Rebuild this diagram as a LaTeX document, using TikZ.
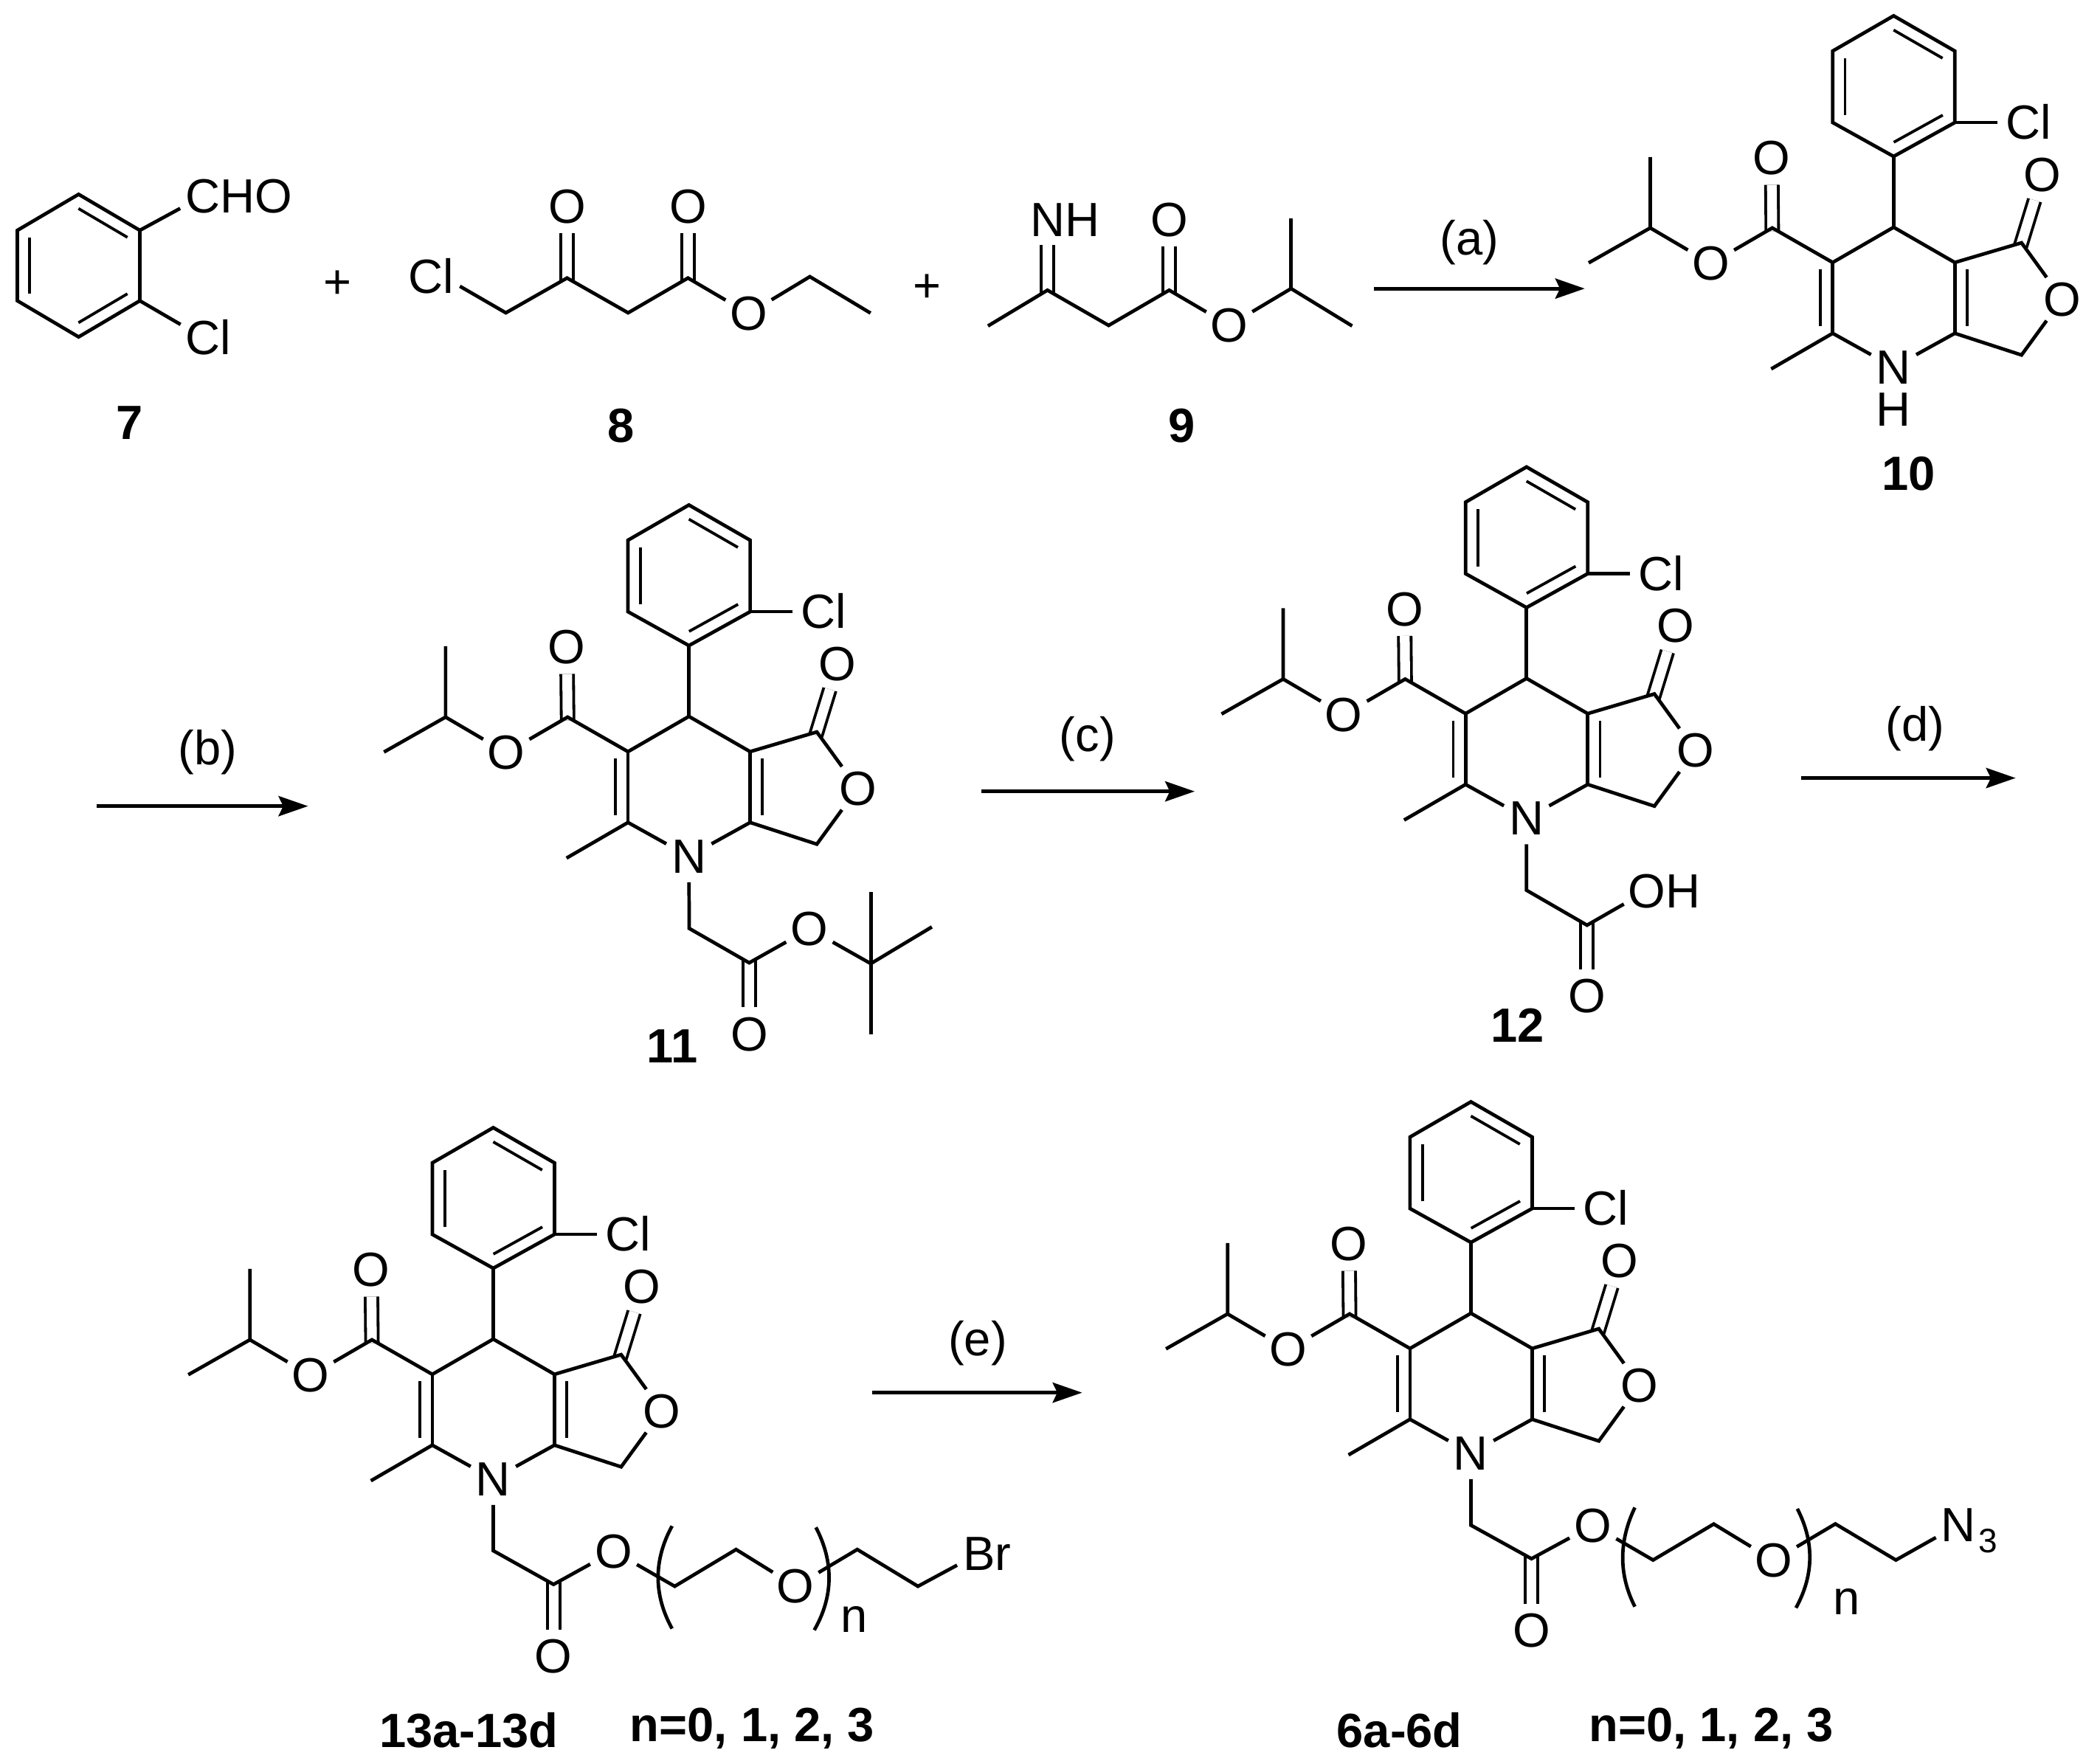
\documentclass[tikz,border=0pt]{standalone}
\usepackage{fontspec}
\setmainfont{Liberation Sans}
\usetikzlibrary{arrows.meta,calc}

\tikzset{
  atom/.style={circle,inner sep=0pt,text height=0.25cm,text depth=0pt},
  thinatom/.style={atom,text width=0pt,minimum size=0.26cm,align=center},
  cmpd/.style={inner sep=0pt,font=\fontsize{10.2pt}{12pt}\selectfont\bfseries},
  plain/.style={inner sep=0pt},
  dbl/.style={line width=0.021cm,double,double distance=0.073cm,shorten <=-0.025cm},
  inline/.style={line width=0.021cm},
  rxn/.style={-{Stealth[length=0.22cm,width=0.15cm,inset=0.035cm]}}
}
% inner line of a ring double bond, on the right of the way from #1 to #2
\newcommand{\inbond}[2]{\draw [inline] ($(#1)!.1!(#2)!.092cm!-90:(#2)$) -- ($(#2)!.1!(#1)!.092cm!90:(#1)$);}
% aryl dihydropyridine and lactone, placed by the ring carbon that holds the aryl
\newcommand{\dhpcore}[3]{%
  \begin{scope}[shift={(#1,#2)}]
  \coordinate (#3c4) at (0,0);
  \coordinate (#3top) at (0,-157.9);
  \coordinate (#3ur) at (45.7,-131.6);
  \coordinate (#3lr) at (45.7,-78.2);
  \coordinate (#3bot) at (0,-52.9);
  \coordinate (#3ll) at (-45.5,-78.2);
  \coordinate (#3ul) at (-45.5,-131.6);
  \coordinate (#3c3) at (-45.5,26.3);
  \coordinate (#3c2) at (-45.5,79.2);
  \coordinate (#3ca) at (45.7,26.3);
  \coordinate (#3cb) at (45.7,79.2);
  \coordinate (#3lac) at (95.5,11.6);
  \coordinate (#3ch) at (95.5,95.4);
  \coordinate (#3me) at (-91.4,105.8);
  \coordinate (#3est) at (-90.6,0.5);
  \coordinate (#3pr) at (-181.7,0.5);
  \coordinate (#3mu) at (-181.7,-52.4);
  \coordinate (#3ml) at (-227.7,26.6);
  \node [atom] (#3cl) at (96.7,-78.2) {C\rlap{l}};
  \node [atom] (#3n) at (0,104.5) {N};
  \node [atom] (#3o1) at (-91.1,-51.7) {O};
  \node [atom] (#3o2) at (-136.4,27.1) {O};
  \node [atom] (#3o3) at (111.1,-39.3) {O};
  \node [atom] (#3o4) at (126,53.6) {O};
  \draw [dbl] (#3est) -- (#3o1);
  \draw [dbl] (#3lac) -- (#3o3);
  \draw (#3ul) -- (#3top) -- (#3ur) -- (#3lr) -- (#3bot) -- (#3ll) -- cycle;
  \inbond{#3ll}{#3ul}
  \inbond{#3top}{#3ur}
  \inbond{#3lr}{#3bot}
  \draw (#3lr) -- (#3cl);
  \draw (#3bot) -- (#3c4);
  \draw (#3mu) -- (#3pr) -- (#3ml);
  \draw (#3pr) -- (#3o2) -- (#3est) -- (#3c3) -- (#3c4) -- (#3ca) -- (#3lac) -- (#3o4) -- (#3ch) -- (#3cb) -- (#3n) -- (#3c2) -- (#3me);
  \draw (#3c3) -- (#3c2);
  \draw (#3ca) -- (#3cb);
  \inbond{#3c3}{#3c2}
  \inbond{#3cb}{#3ca}
  \end{scope}}

\begin{document}
\begin{tikzpicture}[x=0.01cm,y=-0.01cm,line width=0.026cm,font=\fontsize{10.2pt}{12pt}\selectfont]
\useasboundingbox (0,0) rectangle (1568,1317);

% 7
\coordinate (atop) at (58.7,145.1);
\coordinate (aur) at (104.4,172);
\coordinate (alr) at (104.4,224.6);
\coordinate (abot) at (58.7,251.6);
\coordinate (all) at (13,224.6);
\coordinate (aul) at (13,172);
\node [atom] (acho) at (151.5,146.4) {C\rlap{HO}};
\node [atom] (acl) at (151.5,252) {C\rlap{l}};
\draw (aul) -- (atop) -- (aur) -- (alr) -- (abot) -- (all) -- cycle;
\inbond{all}{aul}
\inbond{atop}{aur}
\inbond{alr}{abot}
\draw (aur) -- (acho);
\draw (alr) -- (acl);
\node [cmpd] (lab7) at (96.6,316) {7};
\node [plain] (plus1) at (252.3,212.7) {+};

% 8
\coordinate (bch) at (377.7,233.6);
\coordinate (bco) at (423.4,207.6);
\coordinate (bcm) at (469,233.6);
\coordinate (best) at (513.7,207.6);
\coordinate (bet) at (604.7,206.6);
\coordinate (bme) at (650,233.8);
\node [thinatom] (bcl) at (331,206.6) {\llap{C}l};
\node [atom] (bo1) at (423.4,154.3) {O};
\node [atom] (bo2) at (513.7,154.3) {O};
\node [atom] (bo3) at (559,234.2) {O};
\draw [dbl] (bco) -- (bo1);
\draw [dbl] (best) -- (bo2);
\draw (bcl) -- (bch) -- (bco) -- (bcm) -- (best) -- (bo3) -- (bet) -- (bme);
\node [cmpd] (lab8) at (463.8,317.8) {8};
\node [plain] (plus2) at (692.4,215.5) {+};

% 9
\coordinate (cme) at (737.7,243.4);
\coordinate (cim) at (782.1,216.7);
\coordinate (cch) at (827.8,243);
\coordinate (cest) at (873,216.7);
\coordinate (cpr) at (964,215.5);
\coordinate (cmu) at (964,163);
\coordinate (cmr) at (1009.6,243.4);
\node [atom] (cnh) at (782.1,163.8) {N\rlap{H}};
\node [atom] (co1) at (873,163.8) {O};
\node [atom] (co2) at (917.9,243) {O};
\draw [dbl] (cim) -- (cnh);
\draw [dbl] (cest) -- (co1);
\draw (cme) -- (cim) -- (cch) -- (cest) -- (co2) -- (cpr) -- (cmr);
\draw (cmu) -- (cpr);
\node [cmpd] (lab9) at (882.3,317.8) {9};

% 10
\dhpcore{1413.9}{169.7}{d}
\node [plain] (dh) at (1413.9,306) {H};
\node [cmpd] (lab10) at (1425,354) {10};

% 11
\dhpcore{514.4}{535}{e}
\coordinate (ech2) at (514.6,693.3);
\coordinate (eco) at (559.4,719);
\coordinate (ebu) at (650.2,719.6);
\coordinate (ebu1) at (650.2,666.3);
\coordinate (ebu2) at (695.8,692.2);
\coordinate (ebu3) at (650.2,772.3);
\node [atom] (eo5) at (559.4,772.3) {O};
\node [atom] (eo6) at (604.4,693.7) {O};
\draw [dbl] (eco) -- (eo5);
\draw (en) -- (ech2) -- (eco) -- (eo6) -- (ebu) -- (ebu2);
\draw (ebu1) -- (ebu3);
\node [cmpd] (lab11) at (501.8,781.5) {11};

% 12
\dhpcore{1139.8}{506.6}{f}
\coordinate (fch2) at (1139.8,664.8);
\coordinate (fco) at (1185,690.9);
\node [atom] (fo5) at (1185,743.8) {O};
\node [atom] (foh) at (1229.8,665.2) {O\rlap{H}};
\draw [dbl] (fco) -- (fo5);
\draw (fn) -- (fch2) -- (fco) -- (foh);
\node [cmpd] (lab12) at (1132.9,765.5) {12};

% 13a-13d
\dhpcore{368.3}{1000}{g}
\coordinate (gch2) at (368.3,1158);
\coordinate (gco) at (413.3,1183.2);
\coordinate (gpa) at (503.8,1184.6);
\coordinate (gpb) at (549.6,1157.1);
\coordinate (gpc) at (640.1,1157.1);
\coordinate (gpd) at (685.4,1184.6);
\node [atom] (go5) at (413.3,1237) {O};
\node [atom] (go6) at (458.2,1158.4) {O};
\node [atom] (go7) at (594,1184.6) {O};
\node [atom] (gbr) at (731,1160) {B\rlap{r}};
\draw [dbl] (gco) -- (go5);
\draw (gn) -- (gch2) -- (gco) -- (go6) -- (gpa) -- (gpb) -- (go7) -- (gpc) -- (gpd) -- (gbr);
\draw (501.8,1139.6) .. controls (487.9,1165) and (487.9,1191) .. (501.8,1216.2);
\draw (609.2,1140.6) .. controls (622.5,1166) and (622.5,1192) .. (608,1217.3);
\node [plain] (gsub) at (637.6,1209.4) {n};
\node [cmpd] (lab13) at (350,1292) {13a-13d};
\node [cmpd] (labn13) at (561.7,1291) {n=0, 1, 2, 3};

% 6a-6d
\dhpcore{1098.3}{980.7}{h}
\coordinate (hch2) at (1098.3,1139);
\coordinate (hco) at (1143.5,1164);
\coordinate (hpa) at (1234.3,1165);
\coordinate (hpb) at (1279.6,1138.1);
\coordinate (hpc) at (1370.4,1138);
\coordinate (hpd) at (1415.6,1165);
\node [atom] (ho5) at (1143.5,1217.6) {O};
\node [atom] (ho6) at (1189.5,1139) {O};
\node [atom] (ho7) at (1324.4,1165.3) {O};
\node [atom] (hn3) at (1462.3,1138.7) {N\rlap{\kern0.02cm\raisebox{-0.083cm}{\fontsize{7.2pt}{8pt}\selectfont 3}}};
\draw [dbl] (hco) -- (ho5);
\draw (hn) -- (hch2) -- (hco) -- (ho6) -- (hpa) -- (hpb) -- (ho7) -- (hpc) -- (hpd) -- (hn3);
\draw (1220.7,1125.8) .. controls (1208.6,1151) and (1208.6,1176) .. (1220.7,1199.8);
\draw (1342,1126.7) .. controls (1354.6,1151) and (1354.6,1176) .. (1341,1200.7);
\node [plain] (hsub) at (1378.6,1196) {n};
\node [cmpd] (lab6) at (1045,1292) {6a-6d};
\node [cmpd] (labn6) at (1277.7,1291) {n=0, 1, 2, 3};

% arrows
\coordinate (ra1) at (1025.8,215.5);
\coordinate (ra2) at (1183.3,215.5);
\draw [rxn] (ra1) -- (ra2);
\node [plain] (la) at (1097.3,181) {(a)};
\coordinate (rb1) at (72,602);
\coordinate (rb2) at (230,602);
\draw [rxn] (rb1) -- (rb2);
\node [plain] (lb) at (155,562) {(b)};
\coordinate (rc1) at (733,591);
\coordinate (rc2) at (892,591);
\draw [rxn] (rc1) -- (rc2);
\node [plain] (lc) at (812,552) {(c)};
\coordinate (rd1) at (1345,581);
\coordinate (rd2) at (1505,581);
\draw [rxn] (rd1) -- (rd2);
\node [plain] (ld) at (1430,544) {(d)};
\coordinate (re1) at (651,1040);
\coordinate (re2) at (808,1040);
\draw [rxn] (re1) -- (re2);
\node [plain] (le) at (730,1003) {(e)};
\end{tikzpicture}
\end{document}
